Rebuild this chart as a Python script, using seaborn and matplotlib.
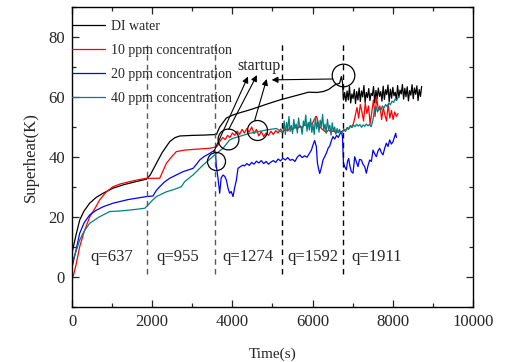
import numpy as np
import matplotlib
matplotlib.use("Agg")
import matplotlib.pyplot as plt
from matplotlib.ticker import MultipleLocator
import seaborn as sns

# ---- data (time in s, superheat in K) ----
# DI water: smooth part up to the startup peak, then noisy part
di_t = [0, 25, 100, 192, 300, 441, 600, 773, 1022, 1300, 1600, 1855, 1950, 2105, 2250,
        2436, 2560, 2686, 3000, 3300, 3601, 3683, 3850, 4015, 4200, 4431, 4680, 4900,
        5180, 5400, 5680, 5900, 6100, 6262, 6400, 6551, 6675, 6717, 6745, 6770]
di_v = [8, 9.5, 14, 19, 22, 24.6, 26.5, 27.9, 29.6, 30.8, 31.8, 32.6, 34, 37.9, 41.5,
        45.1, 46.4, 47, 47.2, 47.3, 47.5, 50, 53, 54, 54.8, 55.7, 56.8, 57.8,
        59, 59.8, 60.8, 61.6, 61.5, 61.8, 62.5, 64, 64.6, 66.8, 65, 59]
di_noise = [61.5, 58.5, 62, 59, 63.5, 58, 61, 59.5, 62.5, 57.8,
            61.8, 59, 63, 58.5, 62, 60, 63.8, 58.2, 61.5, 59.8,
            62.8, 58.8, 61.2, 60.5, 63.5, 58, 62.2, 59.5, 63, 60.2,
            61.8, 58.6, 63.6, 59.2, 62.4, 60.8, 64, 58.4, 62.6, 59.6,
            63.2, 60.4, 61.6, 58.9, 63.8, 59.8, 62.3, 61, 64.2, 59.3,
            62.9, 60.1, 63.4, 58.7, 62.1, 60.6, 64.1, 59.4, 63, 60.9,
            63.7, 58.8, 62.5, 60.2, 63.5]
di_noise_span = (6800, 8720)

# 10 ppm
r_t = [0, 25, 100, 192, 300, 441, 600, 690, 850, 1022, 1200, 1440, 1650, 1855, 2000,
       2187, 2354, 2480, 2603, 2810, 3100, 3434, 3601]
r_v = [-1, 0, 4, 10.1, 15, 20, 23.5, 25.7, 28.3, 30.1, 31, 31.8, 32.4, 32.9, 32.9,
       32.9, 37.9, 40, 41.8, 42.3, 42.6, 42.9, 43.4]
r_noise1 = [44, 45.5, 46.5, 45.8, 47.2, 46.5, 48, 47.2, 48.6, 47.5, 49.2, 48, 49.5, 48.3,
            50, 47.8, 49.2, 47, 48.5, 46.8, 48, 47.2, 48.6, 47.5, 48.8, 48, 49.3, 48.2,
            49.5, 48.6, 50, 49, 50.2, 49.3, 50.5, 49.6, 51, 50, 51.5, 50.8, 52.5, 53.5,
            50.5, 49.5, 48.8, 48.2, 49, 48.3, 48.8, 48, 48.6, 48.2]
r_noise1_span = (3640, 6700)
r_noise2 = [48.5, 49.2, 48.8, 49.8, 49.5, 50.5, 50, 51.5, 54, 56.5, 53, 57.5, 55, 52,
            58, 54.5, 57, 51, 55, 59, 53.5, 60, 55.5, 57, 52.5, 56.5, 54, 52, 57.5,
            53, 55.5, 52.5, 55, 53.5, 54.5]
r_noise2_span = (6740, 8130)

# 20 ppm
b_t = [0, 25, 100, 192, 300, 441, 600, 773, 1022, 1400, 1855, 2020, 2100, 2187, 2300,
       2436, 2600, 2768, 3017, 3100, 3184, 3300, 3434, 3559,
       3580, 3601, 3640, 3683, 3720, 3766, 3810, 3850, 3891, 3933, 3970, 4015, 4060,
       4099, 4140, 4200, 4265,
       4300, 4360, 4420, 4480, 4540, 4600, 4660, 4720, 4780, 4840, 4900, 4960, 5020,
       5080, 5140, 5200, 5260, 5320, 5380, 5440, 5500, 5560, 5620, 5680, 5740, 5800,
       5860, 5920, 5970,
       6010, 6052, 6094, 6120, 6150, 6177, 6220, 6260, 6302, 6350, 6390, 6426, 6470,
       6509, 6551, 6600, 6640, 6675, 6717, 6745,
       6770, 6800, 6842, 6870, 6900, 6930, 6967, 7008, 7050, 7091, 7132, 7170, 7216,
       7260, 7299, 7341, 7380, 7424, 7465, 7507, 7550, 7590, 7630, 7673, 7715, 7756,
       7800, 7839, 7880, 7923, 7965, 8006, 8040, 8072, 8090]
b_v = [3.3, 4.6, 9, 14.6, 18, 20.7, 22.2, 23.4, 24.6, 25.8, 26.8, 27, 28.8, 30.1, 31.6,
       32.9, 34, 35.1, 36.2, 37.5, 39, 40.2, 41.2, 42.3,
       41, 36.8, 33, 27.9, 33, 34, 33.5, 32.3, 29.6, 27.9, 28.5, 26.8, 30,
       32.3, 36.2, 36.8, 37.3,
       37, 37.8, 37.2, 38.2, 37.6, 38.6, 38, 38.8, 37.8, 38.5, 37.6, 38.3, 38.8,
       38.2, 39.3, 38.7, 39.6, 39, 39.8, 38.9, 39.2, 38.5, 40, 40.7, 39.8, 40.4,
       39.9, 41.2, 42.3,
       44, 45.5, 43.4, 38, 36, 34.5, 36.5, 39, 40.1, 41.5, 43, 43.6, 45.5,
       46.8, 46, 47.2, 46.5, 47.5, 48.5, 46.8,
       38, 36.8, 35.7, 38.5, 39.5, 37, 35.1, 34.6, 40.1, 38.4, 36.8, 39.2, 39,
       37.5, 36.8, 34.6, 37, 39, 38.5, 42.3, 41, 40.1, 42, 42.9, 41.5, 40.7,
       43, 44.6, 43.5, 45.7, 44.3, 45.1, 46.6, 47.9, 46.5]

# 40 ppm
g_t = [0, 25, 100, 192, 300, 441, 600, 690, 940, 1200, 1440, 1813, 1897, 2000, 2105,
       2354, 2550, 2728, 2810, 3017, 3267, 3559, 3766, 3933, 4015, 4431, 4847, 5100]
g_v = [3, 5.7, 8.5, 12.3, 15.2, 17.9, 19.3, 20.1, 21.8, 22, 22.3, 22.9, 24, 25.5, 26.8,
       28.4, 29.2, 30.1, 31.8, 34, 37.3, 40.7, 42.9, 45.7, 46.2, 47.9, 49, 49.5]
g_noise1 = [48, 52, 47.5, 51.5, 49, 53.5, 48.5, 50.5, 47.8, 52.5,
            49.5, 51, 48, 53, 49.8, 50.2, 47.6, 52, 50.5, 54,
            48.6, 51.5, 49, 52.8, 48.2, 50.8, 47.5, 53.5, 49.4, 51.8,
            48.3, 52.3, 50, 54.2, 48.8, 51, 47.9, 52.6, 49.2, 50.6,
            47.3, 51.4, 48.5, 50, 47.6, 49.5, 48, 49.2, 48.3]
g_noise1_span = (5260, 6700)
g_noise2 = [48.2, 49, 48.5, 49.6, 49.2, 50.3, 49.8, 50.6, 50.1, 50.9, 50.3, 50.8, 49.9,
            50.7, 50.2, 51, 50.4, 50.9, 50.1, 52, 55.5, 56.8, 55, 56.2, 55.4, 57, 56.3,
            57.5, 56.8, 58, 57.4, 58.6, 58.2, 59.3, 59, 60.1]
g_noise2_span = (6740, 8140)

heat_flux_x = [1860, 3560, 5240, 6760]
q_labels = ["q=637", "q=955", "q=1274", "q=1592", "q=1911"]
q_label_x = [982, 2637, 4380, 5995, 7590]

circle_x = [3590, 3900, 4620, 6770]
circle_y = [38.6, 46, 49, 67.3]
circle_size = [13, 15, 14.4, 16.3]


def with_noise(t, v, segments):
    tt, vv = list(t), list(v)
    for (t0, t1), vals in segments:
        tt += list(np.linspace(t0, t1, len(vals)))
        vv += list(vals)
    return tt, vv


di_T, di_V = with_noise(di_t, di_v, [(di_noise_span, di_noise)])
r_T, r_V = with_noise(r_t, r_v, [(r_noise1_span, r_noise1), (r_noise2_span, r_noise2)])
g_T, g_V = with_noise(g_t, g_v, [(g_noise1_span, g_noise1), (g_noise2_span, g_noise2)])

sns.set_style("ticks")
plt.rcParams['font.family'] = ['Liberation Serif', 'DejaVu Serif']

fig, ax = plt.subplots(figsize=(5.05, 3.62), dpi=100)

series = [
    (di_T, di_V, 'black', 'DI water'),
    (r_T, r_V, '#ff0000', '10 ppm concentration'),
    (b_t, b_v, '#0000ff', '20 ppm concentration'),
    (g_T, g_V, '#008080', '40 ppm concentration'),
]
for t, v, c, lab in series:
    sns.lineplot(x=t, y=v, color=c, lw=0.9, label=lab, ax=ax,
                 estimator=None, sort=False)

for i, xv in enumerate(heat_flux_x):
    ax.vlines(xv, 1, 78, colors='0.35' if i < 2 else 'k', lw=1.0,
              linestyles=(0, (4, 3)))

for lab, xv in zip(q_labels, q_label_x):
    ax.text(xv, 6.7, lab, ha='center', va='center', fontsize=12)

for cx, cy, ms in zip(circle_x, circle_y, circle_size):
    ax.plot(cx, cy, 'o', mfc='none', mec='k', ms=ms, mew=0.9)

arrow_kw = dict(arrowstyle='-|>', color='k', lw=0.8, mutation_scale=9,
                shrinkA=0, shrinkB=0)
ax.annotate('', xy=(4389, 66.8), xytext=(3534, 41.7), arrowprops=arrow_kw)
ax.annotate('', xy=(4613, 67.3), xytext=(3908, 49.2), arrowprops=arrow_kw)
ax.annotate('', xy=(4855, 66.0), xytext=(4556, 52.2), arrowprops=arrow_kw)
ax.annotate('', xy=(4980, 65.7), xytext=(6509, 66.0), arrowprops=arrow_kw)
ax.text(4656, 70.3, 'startup', ha='center', va='center', fontsize=11.5)

ax.set_xlim(0, 10000)
ax.set_ylim(-10, 90)
ax.xaxis.set_major_locator(MultipleLocator(2000))
ax.xaxis.set_minor_locator(MultipleLocator(1000))
ax.yaxis.set_major_locator(MultipleLocator(20))
ax.yaxis.set_minor_locator(MultipleLocator(10))
ax.set_yticks([0, 20, 40, 60, 80])
ax.tick_params(which='both', direction='in', top=True, right=True, width=0.9)
ax.tick_params(which='major', length=5, labelsize=12, pad=5)
ax.tick_params(which='minor', length=3)
for sp in ax.spines.values():
    sp.set_linewidth(1.0)
    sp.set_color('k')

ax.set_xlabel('Time(s)', fontsize=11, labelpad=13)
ax.set_ylabel('Superheat(K)', fontsize=12, labelpad=7)

ax.legend(loc='upper left', bbox_to_anchor=(0, 0.958), frameon=False, fontsize=10,
          handlelength=2.4, handletextpad=0.4, labelspacing=0.8,
          borderaxespad=0, borderpad=0)

plt.subplots_adjust(left=0.1426, right=0.9366, top=0.9807, bottom=0.152)
plt.savefig("out.png", dpi=100)
